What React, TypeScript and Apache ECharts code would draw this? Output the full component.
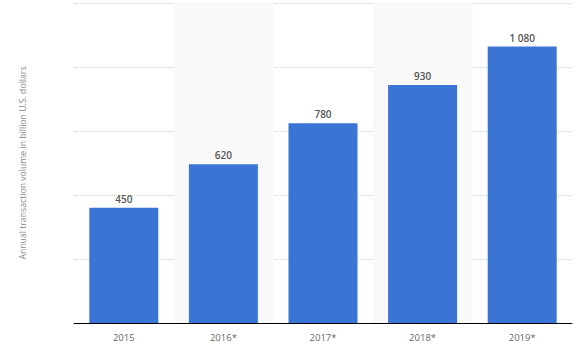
import React, { useEffect, useRef } from "react";
import * as echarts from "echarts";

const categories = ["2015", "2016*", "2017*", "2018*", "2019*"];
const values = [450, 620, 780, 930, 1080];
const yTicks = [0, 250, 500, 750, 1000, 1250];
const yTitle = "Annual transaction volume in billion U.S. dollars";

const fmt = (v: number) => String(v).replace(/\B(?=(\d{3})+(?!\d))/g, " ");

export default function App() {
  const ref = useRef<HTMLDivElement>(null);
  useEffect(() => {
    if (!ref.current) return;
    const chart = echarts.init(ref.current, undefined, { renderer: "svg" });
    chart.setOption({
      animation: false,
      textStyle: { fontFamily: "Open Sans" },
      grid: { left: 74, right: 4, top: 3, bottom: 28, containLabel: false },
      xAxis: {
        type: "category",
        data: categories,
        axisLine: { lineStyle: { color: "#000", width: 1 } },
        axisTick: { show: false },
        axisLabel: { color: "#666", fontSize: 9.5, margin: 9, fontFamily: "Open Sans" },
        splitArea: { show: true, areaStyle: { color: ["rgba(255,255,255,0)", "#f9f9f9"] } },
      },
      yAxis: {
        type: "value",
        min: yTicks[0],
        max: yTicks[yTicks.length - 1],
        interval: yTicks[1] - yTicks[0],
        name: yTitle,
        nameLocation: "middle",
        nameGap: 47,
        nameTextStyle: { color: "#888", fontSize: 8.7, fontFamily: "Open Sans" },
        axisLabel: { show: false },
        axisLine: { show: false },
        axisTick: { show: false },
        splitLine: { lineStyle: { color: "#cfcfcf", type: [1, 1], width: 1 } },
      },
      series: [
        {
          type: "bar",
          data: values,
          barWidth: 69,
          itemStyle: { color: "#3a75d6" },
          label: {
            show: true,
            position: "top",
            distance: 4,
            color: "#555",
            fontSize: 10,
            fontWeight: 600,
            fontFamily: "Open Sans",
            formatter: (p: any) => fmt(p.value),
          },
        },
      ],
    });
    return () => chart.dispose();
  }, []);
  return <div ref={ref} style={{ width: 576, height: 351, position: "absolute", left: 0, top: 0 }} />;
}
